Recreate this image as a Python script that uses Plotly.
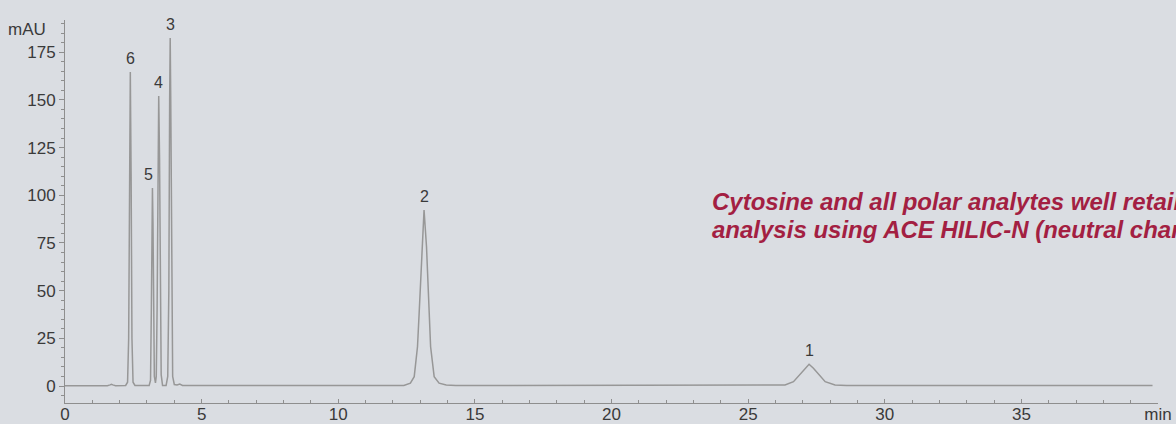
import plotly.graph_objects as go

# ---- data ----
time_min = [0.0, 1.55, 1.65, 1.70, 1.75, 1.85,
            2.22, 2.29, 2.33, 2.36, 2.39, 2.42, 2.45, 2.49, 2.56,
            3.08, 3.13, 3.16, 3.18, 3.20, 3.22, 3.24, 3.27, 3.31,
            3.34, 3.37, 3.40, 3.43, 3.46, 3.49, 3.52, 3.57,
            3.70, 3.76, 3.80, 3.83, 3.85, 3.87, 3.90, 3.94, 4.00, 4.10, 4.20, 4.30,
            12.40, 12.64, 12.78, 12.90, 12.96, 13.01, 13.07, 13.14, 13.23, 13.29, 13.33, 13.38, 13.51, 13.69, 13.95, 14.30,
            26.00, 26.35, 26.66, 26.93, 27.09, 27.23, 27.39, 27.54, 27.82, 28.18, 28.60, 39.80]
absorbance_mau = [0.2, 0.2, 0.6, 0.9, 0.6, 0.2,
                  0.3, 2, 25, 110, 164.6, 110, 25, 2, 0.3,
                  0.3, 3, 40, 85, 103.8, 85, 40, 5, 1.7,
                  5, 40, 120, 152, 120, 40, 6, 0.3,
                  0.3, 5, 50, 150, 182.5, 150, 50, 5, 0.8, 0.5, 1.0, 0.3,
                  0.3, 1.5, 4.9, 20.6, 38, 55.6, 73, 92.3, 73, 55.6, 38, 20.6, 4.9, 1.5, 0.5, 0.3,
                  0.3, 0.5, 2.3, 6.7, 9.3, 11.4, 9.3, 6.7, 2.3, 0.5, 0.3, 0.3]

peak_ids = ["6", "5", "4", "3", "2", "1"]
peak_times = [2.39, 3.20, 3.43, 3.85, 13.14, 27.23]
peak_heights = [164.6, 103.8, 152, 182.5, 92.3, 11.4]
peak_label_xshift = [0, -4, 0, 0, 0, 0]

x_tick_vals = [0, 5, 10, 15, 20, 25, 30, 35, 40]
x_tick_text = ["0", "5", "10", "15", "20", "25", "30", "35", "min"]
y_tick_vals = [0, 25, 50, 75, 100, 125, 150, 175]

note_lines = ["Cytosine and all polar analytes well retained",
              "analysis using ACE HILIC-N (neutral character)"]

BG = "#dadde2"
AXIS = "#8e8e8e"
TXT = "#3a3a3a"
FONT = "Liberation Sans, Arial, sans-serif"

fig = go.Figure()
fig.add_trace(go.Scatter(x=time_min, y=absorbance_mau, mode="lines",
                         line=dict(color="#979797", width=1.5),
                         hoverinfo="skip", showlegend=False))

annotations = []
for pid, t, h, dx in zip(peak_ids, peak_times, peak_heights, peak_label_xshift):
    annotations.append(dict(x=t, y=h, xref="x", yref="y", text=pid, showarrow=False,
                            yanchor="bottom", yshift=3, xshift=dx,
                            font=dict(family=FONT, size=16, color=TXT)))

annotations.append(dict(x=-0.0155, y=0.974, xref="paper", yref="paper", text="mAU",
                        showarrow=False, xanchor="right", yanchor="middle",
                        font=dict(family=FONT, size=17, color=TXT)))

note_y = [0.525, 0.452]
for line, yy in zip(note_lines, note_y):
    annotations.append(dict(x=0.590, y=yy, xref="paper", yref="paper", text="<b><i>" + line + "</i></b>",
                            showarrow=False, xanchor="left", yanchor="middle", align="left",
                            font=dict(family=FONT, size=24, color="#a31f42")))

fig.update_layout(
    width=1176, height=424,
    margin=dict(l=65, r=18, t=20, b=21, autoexpand=False),
    paper_bgcolor=BG, plot_bgcolor=BG,
    showlegend=False,
    annotations=annotations,
    xaxis=dict(range=[0, 40], showgrid=False, zeroline=False, automargin=False,
               showline=True, linecolor=AXIS, linewidth=1,
               tickmode="array", tickvals=x_tick_vals, ticktext=x_tick_text,
               ticks="inside", ticklen=4, tickcolor=AXIS, tickwidth=1,
               ticklabelstandoff=-4,
               minor=dict(dtick=1, ticks="inside", ticklen=3, tickcolor=AXIS, showgrid=False),
               tickfont=dict(family=FONT, size=17, color=TXT)),
    yaxis=dict(range=[-8.9, 191.9], showgrid=False, zeroline=False, automargin=False,
               showline=True, linecolor=AXIS, linewidth=1,
               tickmode="array", tickvals=y_tick_vals,
               ticks="outside", ticklen=5, tickcolor=AXIS, tickwidth=1,
               minor=dict(tickmode="linear", tick0=0, dtick=5, ticks="outside", ticklen=3,
                          tickcolor=AXIS, showgrid=False),
               tickfont=dict(family=FONT, size=17, color=TXT)),
)

fig.write_html("out.html", config={"displayModeBar": False},
               post_script="document.body.style.margin='0';document.body.style.overflow='hidden';"
                           "document.body.style.background='" + BG + "';")
